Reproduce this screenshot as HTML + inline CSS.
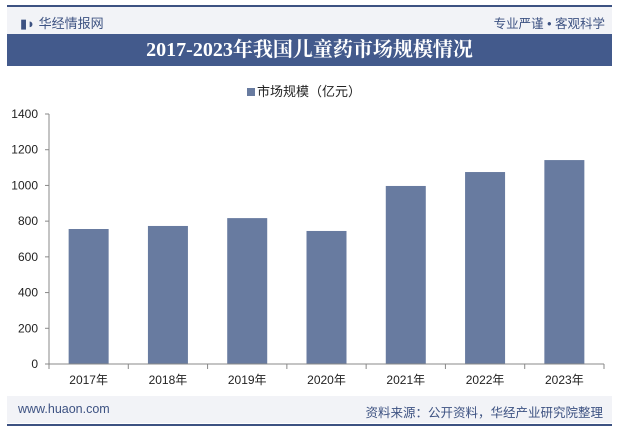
<!DOCTYPE html>
<html><head><meta charset="utf-8"><style>
body{margin:0;width:619px;height:432px;background:#fff;font-family:"Liberation Sans","Noto Sans CJK SC",sans-serif;position:relative;overflow:hidden}
.abs{position:absolute}
</style></head><body>
<div class="abs" style="left:7px;top:5px;width:605px;height:2px;background:#3d5282"></div>
<div class="abs" style="left:7px;top:7px;width:605px;height:27px;background:#f2f3f7"></div>
<div class="abs" style="left:20px;top:13px;font-size:13px;color:#3d5282">▮◗ 华经情报网</div>
<div class="abs" style="right:14px;top:13px;font-size:12.5px;color:#3d5282">专业严谨 • 客观科学</div>
<div class="abs" style="left:7px;top:34px;width:605px;height:32px;background:#435a8c"></div>
<div class="abs" style="left:7px;top:34px;width:605px;height:32px;line-height:32px;text-align:center;color:#fff;font-size:20px;font-weight:bold;font-family:'Liberation Serif','Noto Serif CJK SC',serif">2017-2023年我国儿童药市场规模情况</div>
<div class="abs" style="left:247px;top:81px;font-size:13px;color:#222"><span style="display:inline-block;width:8px;height:8px;background:#687ba0;margin-right:2px"></span>市场规模（亿元）</div>
<svg class="abs" style="left:0;top:0" width="619" height="432" id="chart"></svg>
<div class="abs" style="left:7px;top:396px;width:605px;height:27px;background:#f2f3f7"></div>
<div class="abs" style="left:18px;top:402px;font-size:12.5px;color:#3d5282">www.huaon.com</div>
<div class="abs" style="right:16px;top:402px;font-size:12.5px;color:#3d5282">资料来源：公开资料，华经产业研究院整理</div>
<div class="abs" style="left:7px;top:424px;width:605px;height:2px;background:#3d5282"></div>
<script>
const categories=["2017年","2018年","2019年","2020年","2021年","2022年","2023年"];
const values=[756,773,817,745,997,1075,1142];
const ticks=[0,200,400,600,800,1000,1200,1400];
const svg=document.getElementById('chart');const NS="http://www.w3.org/2000/svg";
const x0=49,x1=604,y0=364,y1=114,maxV=1400;
const bw=(x1-x0)/categories.length;
const y=v=>y0-(v/maxV)*(y0-y1);
function mk(t,a){const e=document.createElementNS(NS,t);for(const k in a)e.setAttribute(k,a[k]);svg.appendChild(e);return e;}
ticks.forEach(t=>{
 const l=mk('text',{x:38,y:y(t)+4,'text-anchor':'end','font-size':12,fill:'#222'});l.textContent=t;
 
 
 const tk=mk('line',{x1:x0-4,x2:x0,y1:y(t),y2:y(t),stroke:'#888'});
 
 
});
const ya=mk('line',{x1:x0,x2:x0,y1:y1,y2:y0,stroke:'#888'});


categories.forEach((c,i)=>{
 const cx=x0+bw*(i+0.5);
 const r=mk('rect',{x:cx-20,y:y(values[i]),width:40,height:y0-y(values[i]),fill:'#687ba0'});
 
 
 const l=mk('text',{x:cx,y:y0+20,'text-anchor':'middle','font-size':12,fill:'#222'});l.textContent=c;
 
 
});
for(let i=0;i<=categories.length;i++){const xx=x0+bw*i;const t=mk('line',{x1:xx,x2:xx,y1:y0,y2:y0+5,stroke:'#888'});
 
 }
const xa=mk('line',{x1:x0,x2:x1,y1:y0,y2:y0,stroke:'#888'});


</script>
</body></html>
